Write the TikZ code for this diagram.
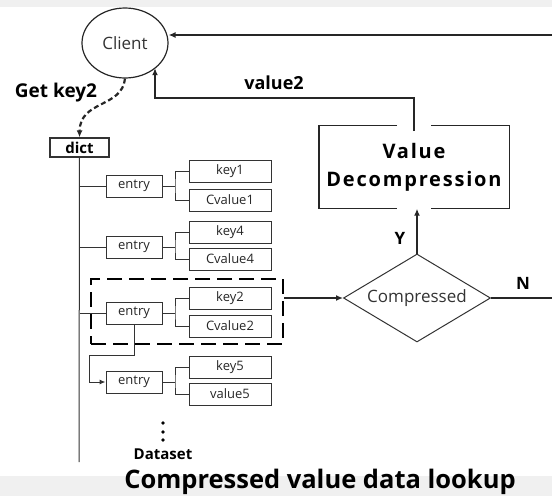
\documentclass[tikz,border=0pt]{standalone}
\usepackage{fontspec}
\setmainfont{Open Sans}
\newfontfamily\spacedfont[LetterSpace=9]{Open Sans}
\usetikzlibrary{shapes.geometric,arrows.meta}

\begin{document}
\begin{tikzpicture}[x=1pt,y=-1pt,
  line/.style={draw=black!85, line width=1.4pt},
  arr/.style={line, -{Latex[length=7pt,width=6pt]}},
  thin/.style={draw=black!80, line width=1pt},
  thinarr/.style={thin, -{Latex[length=6pt,width=5pt]}},
  tbox/.style={draw=black!80, line width=1pt, inner sep=0pt, text=black!85,
    font=\fontsize{13}{13}\selectfont},
  entrybox/.style={tbox, minimum width=56pt, minimum height=22pt},
  kvbox/.style={tbox, minimum width=82pt, minimum height=22pt},
  lbl/.style={font=\bfseries\fontsize{18}{18}\selectfont},
]
\useasboundingbox (0,0) rectangle (552,496);
\fill[black!6] (0,0) rectangle (552,7);
\fill[black!6] (0,476) rectangle (552,496);

% client and the two return paths
\node[ellipse, draw=black!85, line width=1.2pt, minimum width=86pt, minimum height=70pt,
  inner sep=0pt, text=black!80, font=\fontsize{17}{17}\selectfont] (client) at (125,43) {Client};
\coordinate (ret) at (552,35);
\draw[arr] (ret) -- (ret -| client.east);

% decompression box, open where the connectors pass
\node[align=center, minimum width=190pt, minimum height=83pt, inner sep=0pt,
  font=\spacedfont\bfseries\fontsize{20}{28}\selectfont] (dec) at (414,167) {Value\\Decompression};
\draw[line] ([xshift=-17pt]dec.north) -- (dec.north west) -- (dec.south west) -- ([xshift=-17pt]dec.south);
\draw[line] ([xshift=17pt]dec.south) -- (dec.south east) -- (dec.north east) -- ([xshift=17pt]dec.north);

\coordinate (vin) at (414,131);
\coordinate (vturn) at (155,98);
\draw[arr] (vin) |- (vturn) -- (vturn |- client.south east);
\node[lbl] (v2lbl) at (274,83) {value2};

% decision
\node[diamond, draw=black!80, line width=1pt, minimum width=147pt, minimum height=88pt,
  inner sep=0pt, aspect=1.67, text=black!80, font=\fontsize{17}{17}\selectfont] (cmp) at (417,298) {Compressed};
\draw[arr] (cmp.north) -- (cmp.north |- dec.south);
\node[lbl, font=\bfseries\fontsize{17}{17}\selectfont] (ylbl) at (400,238) {Y};
\node[lbl, font=\bfseries\fontsize{17}{17}\selectfont] (nlbl) at (523,283) {N};
\coordinate (nout) at (552,298);
\draw[line] (cmp.east) -- (nout);

% dictionary
\node[tbox, line width=1.2pt, minimum width=59pt, minimum height=19pt,
  font=\bfseries\fontsize{15}{15}\selectfont, text=black] (dict) at (79.5,147.5) {dict};
\draw[line, line width=2.2pt, dash pattern=on 5pt off 3pt, -{Latex[length=7pt,width=6pt]}]
  (client.south) .. controls (122,108) and (80,100) .. (dict.north);
\node[lbl, font=\bfseries\fontsize{19}{19}\selectfont] (getlbl) at (56,93) {Get key2};

\coordinate (tend) at (79,462);
\draw[thin] (dict.south) -- (tend);
\coordinate (bx) at (175,0);

% entries with key / value pairs
\node[entrybox] (e1) at (134,186) {entry};
\node[kvbox] (k1) at (230,171.5) {key1};
\node[kvbox] (c1) at (230,200) {Cvalue1};
\node[entrybox] (e2) at (134,247) {entry};
\node[kvbox] (k4) at (230,232.5) {key4};
\node[kvbox] (c4) at (230,259) {Cvalue4};
\node[entrybox] (e3) at (134,313) {entry};
\node[kvbox] (k2) at (230,298) {key2};
\node[kvbox] (c2) at (230,326) {Cvalue2};
\node[entrybox] (e4) at (134,382) {entry};
\node[kvbox] (k5) at (230,367) {key5};
\node[kvbox] (v5) at (230,394) {value5};

\foreach \e/\k/\v in {e1/k1/c1, e2/k4/c4, e3/k2/c2, e4/k5/v5} {
  \draw[thin] (\e.east) -- (\e.east -| bx);
  \draw[thin] (\k.west) -| (\e.east -| bx) |- (\v.west);
}
\foreach \e in {e1, e2, e3}
  \draw[thin] (\e.west -| dict.south) -- (\e.west);

% selected entry
\node[draw=black, line width=2.6pt, dash pattern=on 15pt off 7pt, minimum width=192pt,
  minimum height=65pt, inner sep=0pt] (sel) at (187,311.5) {};
\draw[arr] (cmp.west -| sel.east) -- (cmp.west);

\coordinate (bend) at (89,355);
\draw[thinarr] (e3.south) |- (bend) |- (e4.west);

% continuation
\foreach \y in {423,432,440} \fill (163,\y) circle (1.8pt);
\node[font=\bfseries\fontsize{15}{15}\selectfont] (ds) at (163,454) {Dataset};
\node[font=\bfseries\fontsize{25.5}{25.5}\selectfont] (cap) at (320,482) {Compressed value data lookup};
\end{tikzpicture}
\end{document}
